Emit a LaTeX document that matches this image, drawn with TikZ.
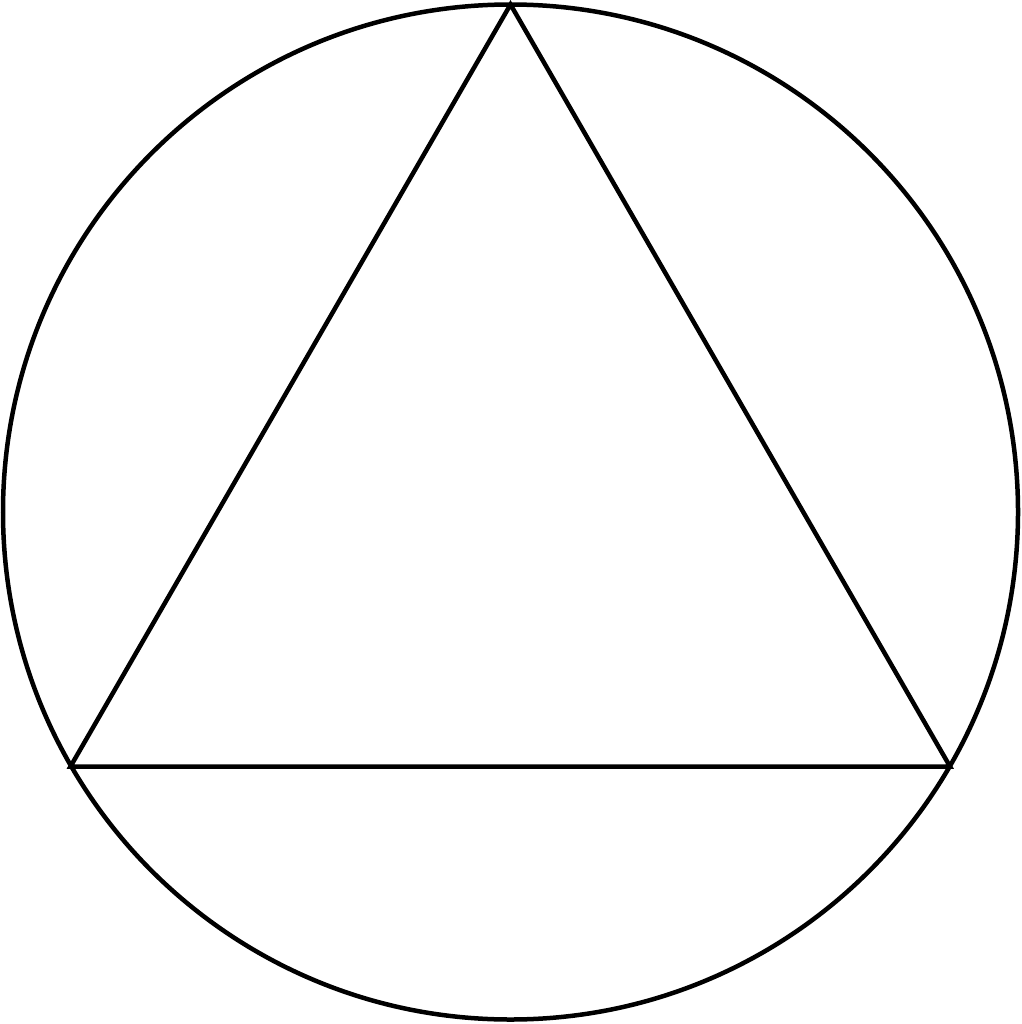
\documentclass[tikz,border=0pt]{standalone}
\begin{document}
\begin{tikzpicture}[x=1pt,y=-1pt,
  shape line/.style={line width=4.5pt, line join=miter, draw=black}]
\useasboundingbox (0,0) rectangle (1021,1024);
\coordinate (o) at (510.5,512);
\coordinate (top) at (510.5,4.5);
\coordinate (bl) at (70.5,766.5);
\coordinate (br) at (950,766.5);
\draw[shape line] (o) circle[radius=507.5pt];
\draw[shape line] (top) -- (bl) -- (br) -- cycle;
\end{tikzpicture}
\end{document}
